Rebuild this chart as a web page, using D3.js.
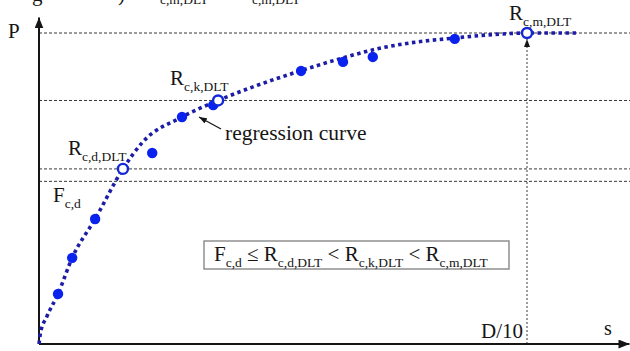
<!DOCTYPE html>
<html>
<head>
<meta charset="utf-8">
<script src="https://cdn.jsdelivr.net/npm/d3@7/dist/d3.min.js"></script>
<style>
  html, body { margin: 0; padding: 0; background: #fff; }
  svg { display: block; }
</style>
</head>
<body>
<svg id="chart" width="630" height="351"></svg>
<script>
// Load test results: displacement s vs. load P (relative units, Rc,m,DLT = 100)
const testS = [3.9, 6.8, 11.5, 23.2, 29.3, 35.7, 53.7, 62.3, 68.4, 85.2];
const testP = [16.1, 27.7, 40.2, 61.4, 73.0, 76.8, 87.8, 90.7, 92.3, 98.1];

// Regression curve fitted through the test results
const curveS = [0, 0.3, 1.6, 3.9, 6.8, 11.5, 17.2, 21.3, 29.3, 36.7, 43.2, 53.5, 62.3, 69.3, 76.0, 85.2, 93.0, 100, 110.5];
const curveP = [0, 3.5, 8.8, 16.1, 27.7, 40.2, 56.3, 65.0, 73.0, 78.3, 82.3, 87.8, 92.0, 94.9, 96.8, 98.4, 99.5, 100, 100];

// Characteristic resistances (open markers) and design load
const charNames = ["c,d,DLT", "c,k,DLT", "c,m,DLT"];
const charS = [17.2, 36.7, 100];
const charP = [56.3, 78.3, 100];
const designName = "c,d";
const designP = 52.3;

// Axis annotations
const xTickValue = 100;
const xTickLabel = "D/10";
const xAxisLabel = "s";
const yAxisLabel = "P";

const serif = "'Liberation Serif', 'Times New Roman', Times, 'DejaVu Serif', serif";
const svg = d3.select("#chart")
  .attr("font-family", serif)
  .style("font-family", serif);
const x = d3.scaleLinear().domain([0, 100]).range([39, 527]);
const y = d3.scaleLinear().domain([0, 100]).range([344, 33]);

const ink = "#151515";
const curveBlue = "#1c1ca8";
const pointBlue = "#0a22ee";
const mainSize = 21;
const subSize = 13.5;

// Arrow markers
const defs = svg.append("defs");
function arrow(id, w, h) {
  defs.append("marker")
    .attr("id", id)
    .attr("viewBox", `0 0 ${w} ${h}`)
    .attr("refX", w).attr("refY", h / 2)
    .attr("markerWidth", w).attr("markerHeight", h)
    .attr("markerUnits", "userSpaceOnUse")
    .attr("orient", "auto")
    .append("path")
    .attr("d", `M0,0L${w},${h / 2}L0,${h}Z`)
    .attr("fill", ink);
}
arrow("axisHead", 11, 9);
arrow("smallHead", 8, 6);

// Caption line running off the top edge
const cap = svg.append("g").attr("class", "caption").attr("fill", ink);
cap.append("text").attr("x", 32).attr("y", 1).attr("font-size", mainSize).text("g");
cap.append("text").attr("x", 118).attr("y", 1).attr("font-size", mainSize).text(")");
cap.append("text").attr("x", 160).attr("y", 4).attr("font-size", subSize).text("c,m,DLT");
cap.append("text").attr("x", 252).attr("y", 4).attr("font-size", subSize).text("c,m,DLT");

// Dashed reference levels
const levels = charP.concat([designP]);
svg.append("g").selectAll("line.level")
  .data(levels).join("line")
  .attr("class", "level")
  .attr("x1", x(0)).attr("x2", 630)
  .attr("y1", d => y(d)).attr("y2", d => y(d))
  .attr("stroke", "#222").attr("stroke-width", 0.9)
  .attr("stroke-dasharray", "3 2");

// Vertical reference at D/10 with arrow up to Rc,m,DLT
svg.append("line")
  .attr("x1", x(xTickValue)).attr("x2", x(xTickValue))
  .attr("y1", y(0)).attr("y2", y(charP[2]) + 6)
  .attr("stroke", "#222").attr("stroke-width", 0.9)
  .attr("stroke-dasharray", "2 2")
  .attr("marker-end", "url(#smallHead)");

// Axes
svg.append("line")
  .attr("x1", x(0)).attr("x2", x(0))
  .attr("y1", y(0)).attr("y2", y(105))
  .attr("stroke", ink).attr("stroke-width", 2)
  .attr("marker-end", "url(#axisHead)");
svg.append("line")
  .attr("x1", x(0)).attr("x2", x(121))
  .attr("y1", y(0)).attr("y2", y(0))
  .attr("stroke", ink).attr("stroke-width", 2)
  .attr("marker-end", "url(#axisHead)");

svg.append("text").attr("x", 8).attr("y", 38).attr("font-size", mainSize).attr("fill", ink).text(yAxisLabel);
svg.append("text").attr("x", 604).attr("y", 335).attr("font-size", 20).attr("fill", ink).text(xAxisLabel);
svg.append("text").attr("x", x(xTickValue) - 4).attr("y", 338).attr("fill", ink)
  .attr("text-anchor", "end").attr("font-size", mainSize).text(xTickLabel);

// Regression curve (dotted)
const line = d3.line()
  .x((d, i) => x(curveS[i]))
  .y((d, i) => y(curveP[i]))
  .curve(d3.curveMonotoneX);
svg.append("path")
  .datum(curveS)
  .attr("d", line)
  .attr("fill", "none")
  .attr("stroke", curveBlue)
  .attr("stroke-width", 3.6)
  .attr("stroke-dasharray", "3.5 3.5");

// Test results
svg.append("g").selectAll("circle.test")
  .data(testS).join("circle")
  .attr("class", "test")
  .attr("cx", d => x(d))
  .attr("cy", (d, i) => y(testP[i]))
  .attr("r", 5.2)
  .attr("fill", pointBlue);

// Characteristic values
svg.append("g").selectAll("circle.char")
  .data(charS).join("circle")
  .attr("class", "char")
  .attr("cx", d => x(d))
  .attr("cy", (d, i) => y(charP[i]))
  .attr("r", 5)
  .attr("fill", "#fff")
  .attr("stroke", "#1428d8")
  .attr("stroke-width", 2.4);

// Symbol labels with subscripts
function symLabel(px, py, main, sub) {
  const t = svg.append("text").attr("x", px).attr("y", py).attr("font-size", mainSize).attr("fill", ink);
  t.append("tspan").text(main);
  t.append("tspan").attr("font-size", subSize).attr("dy", 6).text(sub);
  return t;
}
const labelOffsets = [[-55, -14], [-48, -15], [-18, -13]];
charS.forEach((s, i) => {
  symLabel(x(s) + labelOffsets[i][0], y(charP[i]) + labelOffsets[i][1], "R", charNames[i]);
});
symLabel(53, y(designP) + 21, "F", designName);

// Regression curve annotation
svg.append("line")
  .attr("x1", 221).attr("y1", 129)
  .attr("x2", 199).attr("y2", 117)
  .attr("stroke", ink).attr("stroke-width", 1.2)
  .attr("marker-end", "url(#smallHead)");
svg.append("text").attr("x", 225).attr("y", 140).attr("font-size", 21.5).attr("fill", ink).text("regression curve");

// Inequality box
svg.append("rect")
  .attr("x", 204).attr("y", 241).attr("width", 305).attr("height", 28)
  .attr("fill", "#fff").attr("stroke", "#888").attr("stroke-width", 1.4);
const ineq = svg.append("text").attr("x", 214).attr("y", 261).attr("font-size", mainSize).attr("fill", ink);
const parts = [
  ["F", designName], [" \u2264 R", charNames[0]], [" < R", charNames[1]], [" < R", charNames[2]]
];
parts.forEach(([m, s], i) => {
  ineq.append("tspan").attr("dy", i === 0 ? 0 : -6).text(m);
  ineq.append("tspan").attr("font-size", subSize).attr("dy", 6).text(s);
});
</script>
</body>
</html>
